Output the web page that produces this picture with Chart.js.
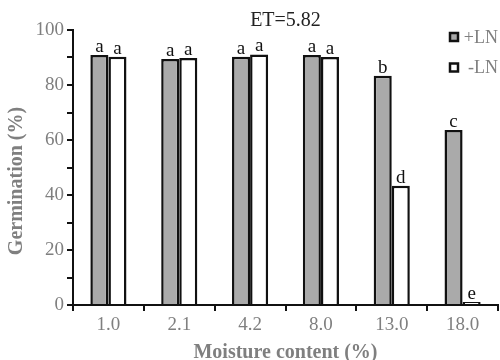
<!DOCTYPE html>
<html>
<head>
<meta charset="utf-8">
<script src="https://cdn.jsdelivr.net/npm/chart.js@4/dist/chart.umd.min.js"></script>
<style>
  body { margin: 0; background: #fff; }
</style>
</head>
<body>
<canvas id="myChart" width="500" height="360"></canvas>
<script>
let moisture = ['1.0', '2.1', '4.2', '8.0', '13.0', '18.0'];
let plusLN = [90.9, 89.5, 90.3, 90.9, 83.4, 63.6];
let minusLN = [90.3, 89.8, 91.1, 90.2, 43.4, 1.1];
let plusLetters = ['a', 'a', 'a', 'a', 'b', 'c'];
let minusLetters = ['a', 'a', 'a', 'a', 'd', 'e'];
let seriesNames = ['+LN', '-LN'];
let yTicks = [0, 20, 40, 60, 80, 100];
let etText = 'ET=5.82';

const grayText = '#7f7f7f';
const serif = "'Liberation Serif', 'Times New Roman', serif";

// letters over bars, ET label, y title, legend
const extras = {
  id: 'extras',
  afterDatasetsDraw(chart) {
    const ctx = chart.ctx;
    const area = chart.chartArea;
    const letters = [plusLetters, minusLetters];
    ctx.save();
    ctx.font = '19px ' + serif;
    ctx.fillStyle = '#111';
    ctx.textAlign = 'center';
    ctx.textBaseline = 'alphabetic';
    chart.data.datasets.forEach(function(ds, i) {
      chart.getDatasetMeta(i).data.forEach(function(bar, j) {
        ctx.fillText(letters[i][j], bar.x, bar.y - 3);
      });
    });

    ctx.font = '20px ' + serif;
    ctx.fillStyle = '#222';
    ctx.textBaseline = 'middle';
    ctx.fillText(etText, (area.left + area.right) / 2, 21);

    // y axis title
    ctx.save();
    ctx.translate(17, 181);
    ctx.rotate(-Math.PI / 2);
    ctx.font = 'bold 20px ' + serif;
    ctx.fillStyle = grayText;
    ctx.fillText('Germination (%)', 0, 0);
    ctx.restore();

    // legend
    ctx.font = '18px ' + serif;
    ctx.textAlign = 'right';
    chart.data.datasets.forEach(function(ds, i) {
      let cy = 37 + i * 30.5;
      ctx.fillStyle = ds.backgroundColor;
      ctx.fillRect(450, cy - 4, 8, 8);
      ctx.strokeStyle = '#111';
      ctx.lineWidth = 2.5;
      ctx.strokeRect(450, cy - 4, 8, 8);
      ctx.fillStyle = grayText;
      ctx.fillText(ds.label, 498, cy + 1);
    });
    ctx.restore();
  }
};

const config = {
  type: 'bar',
  data: {
    labels: moisture,
    datasets: [
      {
        label: seriesNames[0],
        data: plusLN,
        backgroundColor: '#aaaaaa',
        borderColor: '#111',
        borderWidth: 2.5
      },
      {
        label: seriesNames[1],
        data: minusLN,
        backgroundColor: '#ffffff',
        borderColor: '#111',
        borderWidth: 2.5
      }
    ]
  },
  options: {
    responsive: false,
    animation: false,
    layout: { padding: { top: 30, right: 2, left: 0, bottom: 0 } },
    categoryPercentage: 0.51,
    barPercentage: 1,
    plugins: {
      legend: { display: false },
      tooltip: { enabled: false }
    },
    scales: {
      x: {
        afterFit: function(s) { s.height = 55; },
        border: { color: '#111', width: 2 },
        grid: { drawOnChartArea: false, tickLength: 6, tickColor: '#111', lineWidth: 2, offset: true },
        ticks: { color: grayText, font: { family: serif, size: 19 }, padding: 3 },
        title: {
          display: true,
          text: 'Moisture content (%)',
          color: grayText,
          font: { family: serif, size: 20, weight: 'bold', lineHeight: 0.7 },
          padding: 0
        }
      },
      y: {
        min: 0,
        max: 100,
        afterFit: function(s) { s.width = 73; },
        border: { color: '#111', width: 2 },
        grid: { drawOnChartArea: false, tickLength: 6, tickColor: '#111', lineWidth: 2 },
        ticks: {
          stepSize: 10,
          color: grayText,
          font: { family: serif, size: 19 },
          padding: 3,
          callback: function(v) { return yTicks.indexOf(v) >= 0 ? v : ''; }
        }
      }
    }
  },
  plugins: [extras]
};

const myChart = new Chart(document.getElementById('myChart'), config);
</script>
</body>
</html>
